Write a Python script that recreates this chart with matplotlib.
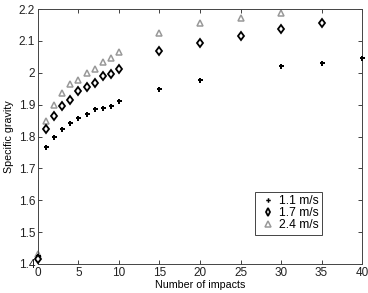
import matplotlib
matplotlib.use('Agg')
import matplotlib.pyplot as plt
from matplotlib.ticker import FuncFormatter

plt.rcParams['font.family'] = ['Liberation Sans', 'DejaVu Sans']
plt.rcParams['font.size'] = 8.5

# impacts and specific gravity for each impact speed
impacts_slow = [0, 1, 2, 3, 4, 5, 6, 7, 8, 9, 10, 15, 20, 30, 35, 40]
sg_slow = [1.425, 1.768, 1.800, 1.823, 1.841, 1.859, 1.872, 1.885, 1.889, 1.895,
           1.910, 1.948, 1.976, 2.021, 2.032, 2.045]

impacts_mid = [0, 1, 2, 3, 4, 5, 6, 7, 8, 9, 10, 15, 20, 25, 30, 35]
sg_mid = [1.415, 1.824, 1.864, 1.895, 1.916, 1.942, 1.954, 1.969, 1.989, 1.996,
          2.011, 2.069, 2.092, 2.115, 2.139, 2.157]

impacts_fast = [0, 1, 2, 3, 4, 5, 6, 7, 8, 9, 10, 15, 20, 25, 30]
sg_fast = [1.430, 1.850, 1.898, 1.936, 1.964, 1.977, 1.999, 2.013, 2.034, 2.048,
           2.064, 2.124, 2.157, 2.173, 2.188]

labels = ['1.1 m/s', '1.7 m/s', '2.4 m/s']

fig = plt.figure(figsize=(3.68, 2.93), dpi=100)
ax = fig.add_axes([0.103, 0.099, 0.881, 0.870])

ax.plot(impacts_slow, sg_slow, linestyle='none', marker='P', markersize=3.6,
        color='black', markeredgewidth=0, label=labels[0], clip_on=False, zorder=3)
ax.plot(impacts_mid, sg_mid, linestyle='none', marker='d', markersize=4.3,
        markerfacecolor='white', markeredgecolor='black', markeredgewidth=1.3,
        label=labels[1], clip_on=False, zorder=3)
ax.plot(impacts_fast, sg_fast, linestyle='none', marker='^', markersize=4.2,
        markerfacecolor='white', markeredgecolor='#999999', markeredgewidth=1.1,
        label=labels[2], clip_on=False, zorder=2)

ax.set_xlim(0, 40)
ax.set_ylim(1.4, 2.2)
ax.set_xticks(range(0, 41, 5))
ax.set_yticks([1.4, 1.5, 1.6, 1.7, 1.8, 1.9, 2.0, 2.1, 2.2])
ax.yaxis.set_major_formatter(FuncFormatter(lambda v, p: '%g' % round(v, 2)))
ax.tick_params(direction='in', top=True, right=True, length=3, width=0.6, pad=2,
               colors='#222222')
for s in ax.spines.values():
    s.set_linewidth(0.7)
    s.set_color('#444444')

ax.set_xlabel('Number of impacts', fontsize=7.7, labelpad=1)
ax.set_ylabel('Specific gravity', fontsize=7.7, labelpad=3)

leg = ax.legend(loc='lower right', bbox_to_anchor=(0.877, 0.114), fancybox=False,
                edgecolor='#444444', framealpha=1, fontsize=8.7, markerscale=0.9,
                handlelength=1.6, handletextpad=0.1, borderpad=0.3,
                labelspacing=0.0, borderaxespad=0)
leg.get_frame().set_linewidth(0.7)

fig.savefig('out.png', dpi=100)
